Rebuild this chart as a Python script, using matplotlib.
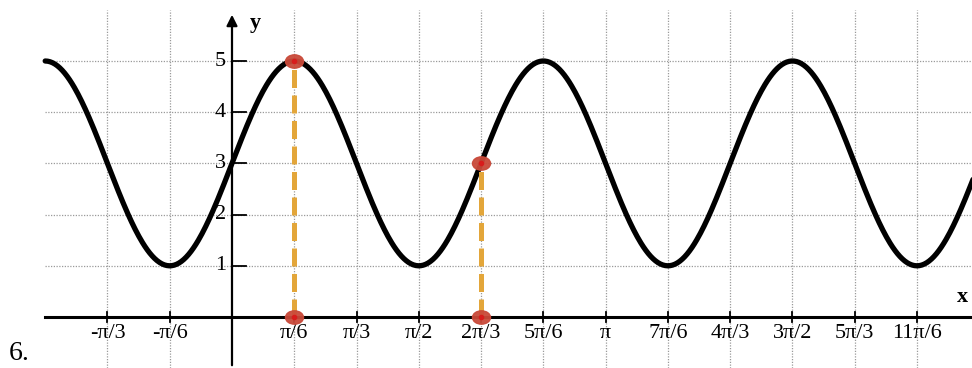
import numpy as np
import matplotlib.pyplot as plt
from matplotlib.path import Path

plt.rcParams['font.family'] = ['Liberation Serif', 'DejaVu Serif']

# curve: y = midline + amplitude * cos(freq * (x - shift))
midline = 3
amplitude = 2
freq = 3
shift = np.pi / 6
x_start, x_end = -np.pi / 2, 2.1 * np.pi

# ticks in multiples of pi/6
tick_sixths = [-2, -1, 1, 2, 3, 4, 5, 6, 7, 8, 9, 10, 11]
tick_labels = ['-π/3', '-π/6', 'π/6', 'π/3', 'π/2', '2π/3', '5π/6', 'π',
               '7π/6', '4π/3', '3π/2', '5π/3', '11π/6']
y_ticks = [1, 2, 3, 4, 5]

# marked points
point_x = [np.pi / 6, 2 * np.pi / 3]
point_y = [5, 3]

fig = plt.figure(figsize=(9.72, 3.68), dpi=100)
ax = fig.add_axes([0, 0, 1, 1])
px = 62.27 / (np.pi / 6)   # pixels per radian
py = 51.2                   # pixels per unit
x0, y0 = 232, 317
ax.set_xlim(-x0 / px, (972 - x0) / px)
ax.set_ylim(-(368 - y0) / py, y0 / py)
ax.axis('off')

tick_x = [k * np.pi / 6 for k in tick_sixths]
grid_top = (y0 - 10) / py
for t in tick_x:
    ax.plot([t, t], [ax.get_ylim()[0], grid_top], color='#9a9a9a', lw=0.9, ls=(0, (1, 1.2)), zorder=1)
for yv in y_ticks:
    ax.plot([x_start, ax.get_xlim()[1]], [yv, yv], color='#9a9a9a', lw=0.9, ls=(0, (1, 1.2)), zorder=1)

# axes
ax.plot([x_start, ax.get_xlim()[1]], [0, 0], color='black', lw=2.2, zorder=2)
ax.annotate('', xy=(0, (y0 - 12) / py), xytext=(0, ax.get_ylim()[0]),
            arrowprops=dict(arrowstyle='-|>', color='black', lw=1.6, mutation_scale=16), zorder=2)
for t, lab in zip(tick_x, tick_labels):
    ax.plot([t, t], [-0.1, 0.1], color='black', lw=1.3, zorder=2)
    ax.text(t, -0.33, lab, ha='center', va='center', fontsize=16)
for yv in y_ticks:
    ax.plot([0, 0.12], [yv, yv], color='black', lw=1.3, zorder=2)
    ax.text(-0.05, yv, str(yv), ha='right', va='center', fontsize=16)

ax.text(0.2, 5.75, 'y', fontsize=16, fontweight='bold', ha='center', va='center')
ax.text(6.14, 0.4, 'x', fontsize=16, fontweight='bold', ha='center', va='center')
ax.text(-1.79, -0.72, '6.', fontsize=20, ha='center', va='center')

xs = np.linspace(x_start, x_end, 800)
ax.plot(xs, midline + amplitude * np.cos(freq * (xs - shift)), color='black', lw=3.8,
        solid_capstyle='round', zorder=3)

# slightly wide oval marker like the reference dots
circle = Path.unit_circle()
oval = Path(circle.vertices * [1.35, 1.0], circle.codes)

for xp, yp in zip(point_x, point_y):
    ax.plot([xp, xp], [0, yp], color='#e3a63a', lw=3.6, ls=(0, (3.6, 1.5)), zorder=4)
    ax.plot([xp, xp], [yp, 0], ls='none', marker=oval, ms=13, color='#c94a3a',
            markeredgecolor='#c94a3a', zorder=5, alpha=0.95)
    ax.plot([xp, xp], [yp, 0], ls='none', marker='o', ms=3, color='#d81c1c', zorder=6)

fig.savefig('out.png', dpi=100)
